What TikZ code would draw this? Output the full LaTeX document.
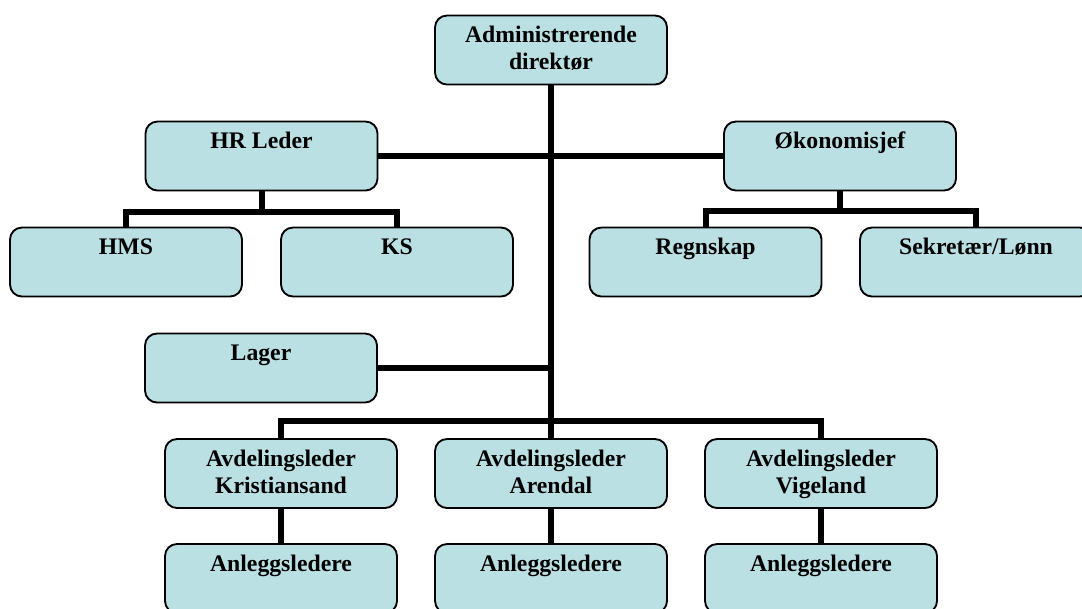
\documentclass[tikz,border=0pt]{standalone}
\usepackage{fontspec}
\setmainfont{Liberation Serif}
\definecolor{boxfill}{RGB}{187,224,227}
% text block of a box: lines start near the top edge, centred horizontally
\newcommand\boxtext[1]{\parbox[t][51.75pt][t]{174pt}{\centering\rule{0pt}{20.25pt}#1}}
\begin{document}
\begin{tikzpicture}[x=0.75pt,y=-0.75pt,
  orgbox/.style={draw=black, line width=1.4pt, fill=boxfill, rounded corners=9pt,
    inner sep=0pt, outer sep=0pt,
    font=\fontsize{17.8pt}{20.25pt}\selectfont\bfseries},
  link/.style={draw=black, line width=4.5pt, line join=miter}]
\useasboundingbox (0,0) rectangle (1082,608);
\clip (0,0) rectangle (1082,608);

% boxes
\node[orgbox] (adm)  at (551,50)    {\boxtext{Administrerende\\direktør}};
\node[orgbox] (hr)   at (261.5,156) {\boxtext{HR Leder}};
\node[orgbox] (ok)   at (840,156)   {\boxtext{Økonomisjef}};
\node[orgbox] (hms)  at (126,262)   {\boxtext{HMS}};
\node[orgbox] (ks)   at (397,262)   {\boxtext{KS}};
\node[orgbox] (regn) at (705.5,262) {\boxtext{Regnskap}};
\node[orgbox] (sek)  at (976,262)   {\boxtext{Sekretær/Lønn}};
\node[orgbox] (lag)  at (261,368)   {\boxtext{Lager}};
\node[orgbox] (avdk) at (281,473.5) {\boxtext{Avdelingsleder\\Kristiansand}};
\node[orgbox] (avda) at (551,473.5) {\boxtext{Avdelingsleder\\Arendal}};
\node[orgbox] (avdv) at (821,473.5) {\boxtext{Avdelingsleder\\Vigeland}};
\node[orgbox] (anlk) at (281,578.5) {\boxtext{Anleggsledere}};
\node[orgbox] (anla) at (551,578.5) {\boxtext{Anleggsledere}};
\node[orgbox] (anlv) at (821,578.5) {\boxtext{Anleggsledere}};

% junction points of the branch lines
\coordinate (hrbus)  at (261.5,212);
\coordinate (okbus)  at (840,211);
\coordinate (avdbus) at (551,421);

% connectors
\draw[link] (adm.south) -- (avda.north);
\draw[link] (hr.east) -- (ok.west);
\draw[link] (lag.east) -- (lag.east -| adm.south);
\draw[link] (avdk.north) |- (avdbus) -| (avdv.north);
\draw[link] (hr.south) -- (hrbus);
\draw[link] (hms.north) |- (hrbus) -| (ks.north);
\draw[link] (ok.south) -- (okbus);
\draw[link] (regn.north) |- (okbus) -| (sek.north);
\draw[link] (avdk.south) -- (anlk.north);
\draw[link] (avda.south) -- (anla.north);
\draw[link] (avdv.south) -- (anlv.north);
\end{tikzpicture}
\end{document}
